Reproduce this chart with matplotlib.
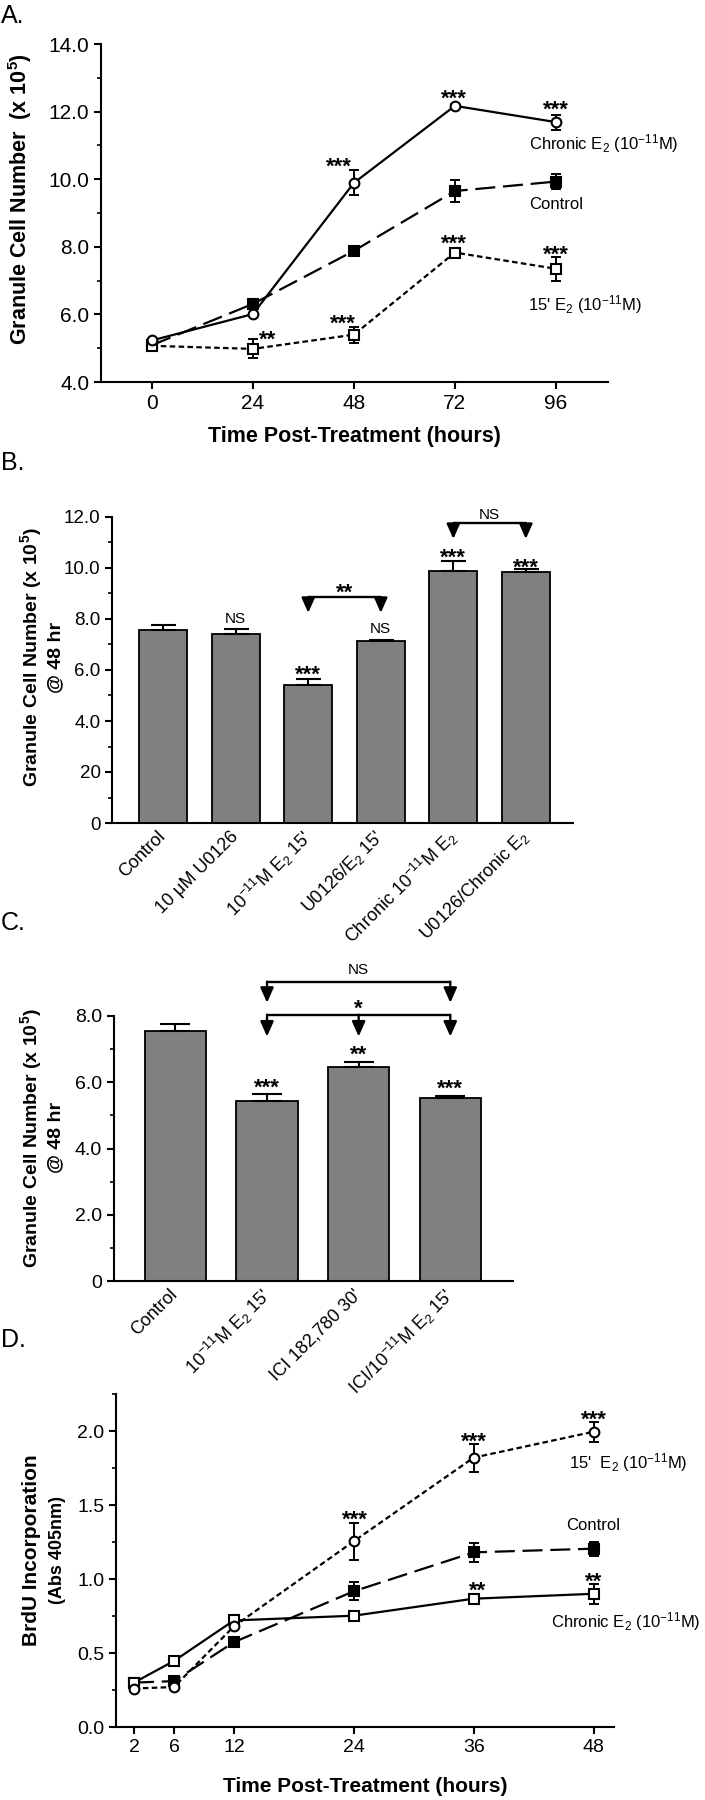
import numpy as np
import matplotlib
matplotlib.use("Agg")
import matplotlib.pyplot as plt

plt.rcParams['font.family'] = ['Liberation Sans', 'DejaVu Sans']
plt.rcParams['mathtext.fontset'] = 'custom'
plt.rcParams['mathtext.rm'] = 'Liberation Sans'
plt.rcParams['mathtext.it'] = 'Liberation Sans:italic'
plt.rcParams['mathtext.bf'] = 'Liberation Sans:bold'
plt.rcParams['mathtext.default'] = 'regular'

# ---- panel A: granule cell number over time ----
hours_a = [0, 24, 48, 72, 96]
chronic_a = [5.23, 6.01, 9.89, 12.17, 11.69]
chronic_a_err = [0.04, 0.04, 0.37, 0.05, 0.22]
control_a = [5.09, 6.31, 7.88, 9.65, 9.93]
control_a_err = [0.04, 0.04, 0.13, 0.33, 0.23]
pulse_a = [5.07, 4.98, 5.40, 7.83, 7.35]
pulse_a_err = [0.04, 0.28, 0.24, 0.08, 0.36]
sig_a_x = [44.5, 71.8, 96, 27.5, 45.3, 71.8, 96]
sig_a_y = [10.57, 12.58, 12.26, 5.45, 5.93, 8.29, 7.96]
sig_a = ['***', '***', '***', '**', '***', '***', '***']

# ---- panel B: U0126 bars at 48 hr ----
groups_b = ["Control", "10 \u03bcM U0126", "10$^{-11}$M E$_2$ 15'", "U0126/E$_2$ 15'",
            "Chronic 10$^{-11}$M E$_2$", "U0126/Chronic E$_2$"]
means_b = [7.57, 7.41, 5.42, 7.12, 9.88, 9.84]
sem_b = [0.19, 0.19, 0.21, 0.04, 0.39, 0.12]
sig_b = ['', 'NS', '***', 'NS', '***', '***']
sig_b_y = [0, 8.04, 6.08, 7.65, 10.67, 10.27]

# ---- panel C: ICI bars at 48 hr ----
groups_c = ["Control", "10$^{-11}$M E$_2$ 15'", "ICI 182,780 30'", "ICI/10$^{-11}$M E$_2$ 15'"]
means_c = [7.56, 5.42, 6.47, 5.52]
sem_c = [0.20, 0.23, 0.15, 0.06]
sig_c = ['', '***', '**', '***']
sig_c_y = [0, 6.05, 7.05, 6.0]

# ---- panel D: BrdU incorporation ----
hours_d = [2, 6, 12, 24, 36, 48]
pulse_d = [0.26, 0.27, 0.68, 1.255, 1.82, 1.995]
pulse_d_err = [0.01, 0.01, 0.01, 0.126, 0.094, 0.067]
control_d = [0.30, 0.31, 0.573, 0.917, 1.18, 1.205]
control_d_err = [0.01, 0.01, 0.01, 0.061, 0.065, 0.048]
chronic_d = [0.30, 0.446, 0.72, 0.752, 0.867, 0.90]
chronic_d_err = [0.01, 0.01, 0.01, 0.01, 0.02, 0.066]
sig_d_x = [24.1, 36, 48, 36.4, 48]
sig_d_y = [1.445, 1.977, 2.12, 0.968, 1.028]
sig_d = ['***', '***', '***', '**', '**']

W, H = 705, 1800
fig = plt.figure(figsize=(W / 100, H / 100), dpi=100)


def axes_px(left, top, right, bottom):
    return fig.add_axes([left / W, 1 - bottom / H, (right - left) / W, (bottom - top) / H])


def style(ax, tick_size):
    for s in ['top', 'right']:
        ax.spines[s].set_visible(False)
    for s in ['left', 'bottom']:
        ax.spines[s].set_linewidth(1.5)
    ax.tick_params(width=1.5, length=5, labelsize=tick_size, direction='out')
    ax.tick_params(which='minor', width=1.2, length=3)


def stars(ax, x, y, s, size=16):
    ax.annotate(s, (x, y), xytext=(0, -0.58 * size), textcoords='offset points',
                ha='center', va='baseline', fontsize=size, fontweight='bold',
                annotation_clip=False)


def ns(ax, x, y, s, size=11):
    ax.annotate(s, (x, y), xytext=(0, -0.36 * size), textcoords='offset points',
                ha='center', va='baseline', fontsize=size, annotation_clip=False)


def bracket(ax, xs, y_line, y_tip, label, y_label):
    ax.plot([xs[0], xs[-1]], [y_line, y_line], color='k', lw=1.7, clip_on=False,
            solid_capstyle='butt')
    for x in xs:
        ax.annotate('', xy=(x, y_tip), xytext=(x, y_line), annotation_clip=False,
                    arrowprops=dict(arrowstyle='-|>,head_length=0.45,head_width=0.2',
                                    mutation_scale=20, color='k', lw=1.7,
                                    shrinkA=0, shrinkB=0))
    if label.startswith('*'):
        stars(ax, (xs[0] + xs[-1]) / 2, y_label, label)
    else:
        ns(ax, (xs[0] + xs[-1]) / 2, y_label, label)


def series(ax, x, y, err, marker, face, dashes, cap):
    line, = ax.plot(x, y, color='k', lw=1.6)
    if dashes:
        line.set_dashes(dashes)
    ax.errorbar(x, y, yerr=err, fmt='none', ecolor='k', elinewidth=1.4,
                capsize=cap, capthick=1.4, zorder=3)
    ax.plot(x, y, ls='none', marker=marker, ms=7, mfc=face, mec='k', mew=1.5, zorder=4)


# panel A
ax = axes_px(101, 44, 608, 382)
style(ax, 15)
series(ax, hours_a, control_a, control_a_err, 's', 'k', (9, 3.5), 3.5)
series(ax, hours_a, pulse_a, pulse_a_err, 's', 'white', (2.5, 1.5), 3.5)
series(ax, hours_a, chronic_a, chronic_a_err, 'o', 'white', None, 3.5)
for x, y, s in zip(sig_a_x, sig_a_y, sig_a):
    stars(ax, x, y, s)
ax.text(89.7, 11.06, "Chronic E$_2$ (10$^{-11}$M)", fontsize=12, va='center', clip_on=False)
ax.text(89.7, 9.24, "Control", fontsize=12, va='center', clip_on=False)
ax.text(89.5, 6.28, "15' E$_2$ (10$^{-11}$M)", fontsize=12, va='center', clip_on=False)
ax.set_xlim(-12.1, 108.4)
ax.set_ylim(4, 14)
ax.set_xticks(hours_a)
ax.set_yticks(np.arange(4, 15, 2))
ax.set_yticklabels([f'{v:.1f}' for v in np.arange(4, 15, 2)])
ax.set_yticks(np.arange(5, 14, 2), minor=True)
ax.set_xlabel('Time Post-Treatment (hours)', fontsize=15.5, fontweight='bold')
ax.xaxis.set_label_coords(0.499, -0.16)
ax.xaxis.label.set_va('center')
ax.set_ylabel(r'Granule Cell Number  (x 10$^\mathbf{5}$)', fontsize=15.5, fontweight='bold')
ax.yaxis.set_label_coords(-0.16, 0.541)
ax.yaxis.label.set_va('center')

# panel B
ax = axes_px(112.4, 517, 573, 823)
style(ax, 13.5)
xb = np.arange(len(groups_b))
ax.bar(xb, means_b, width=0.66, color='#808080', edgecolor='k', lw=1.3, zorder=2)
ax.errorbar(xb, means_b, yerr=[np.zeros(len(xb)), sem_b], fmt='none', ecolor='k',
            elinewidth=1.5, capsize=9, capthick=1.5, zorder=3)
for x, y, s in zip(xb, sig_b_y, sig_b):
    if s == 'NS':
        ns(ax, x, y, s)
    elif s:
        stars(ax, x, y, s)
bracket(ax, [2, 3], 8.86, 8.24, '**', 9.3)
bracket(ax, [4, 5], 11.76, 11.14, 'NS', 12.12)
ax.set_xlim(-0.70, 5.65)
ax.set_ylim(0, 12)
ax.set_yticks(np.arange(0, 13, 2))
ax.set_yticklabels(['0', '20', '4.0', '6.0', '8.0', '10.0', '12.0'])
ax.set_yticks(np.arange(1, 12, 2), minor=True)
ax.set_xticks(xb)
ax.set_xticklabels(groups_b, rotation=45, ha='right', va='center', rotation_mode='anchor',
                   fontsize=13)
ax.tick_params(axis='x', length=0, pad=8)
ax.set_ylabel('Granule Cell Number (x 10$^\\mathbf{5}$)\n@ 48 hr', fontsize=14,
              fontweight='bold', linespacing=1.3)
ax.yaxis.set_label_coords(-0.155, 0.542)
ax.yaxis.label.set_va('center')

# panel C
ax = axes_px(114, 1016, 512.6, 1281)
style(ax, 14)
xc = np.arange(len(groups_c))
ax.bar(xc, means_c, width=0.67, color='#808080', edgecolor='k', lw=1.3, zorder=2)
ax.errorbar(xc, means_c, yerr=[np.zeros(len(xc)), sem_c], fmt='none', ecolor='k',
            elinewidth=1.5, capsize=11, capthick=1.5, zorder=3)
for x, y, s in zip(xc, sig_c_y, sig_c):
    if s:
        stars(ax, x, y, s)
bracket(ax, [1, 2, 3], 8.04, 7.38, '*', 8.42)
bracket(ax, [1, 3], 9.04, 8.40, 'NS', 9.42)
ax.set_xlim(-0.67, 3.68)
ax.set_ylim(0, 8)
ax.set_yticks(np.arange(0, 9, 2))
ax.set_yticklabels(['0', '2.0', '4.0', '6.0', '8.0'])
ax.set_yticks(np.arange(1, 8, 2), minor=True)
ax.set_xticks(xc)
ax.set_xticklabels(groups_c, rotation=45, ha='right', va='center', rotation_mode='anchor',
                   fontsize=13)
ax.tick_params(axis='x', length=0, pad=8)
ax.set_ylabel('Granule Cell Number (x 10$^\\mathbf{5}$)\n@ 48 hr', fontsize=14,
              fontweight='bold', linespacing=1.3)
ax.yaxis.set_label_coords(-0.183, 0.54)
ax.yaxis.label.set_va('center')

# panel D
ax = axes_px(116, 1394, 614, 1727)
style(ax, 14)
series(ax, hours_d, control_d, control_d_err, 's', 'k', (9, 3.5), 3.5)
series(ax, hours_d, chronic_d, chronic_d_err, 's', 'white', None, 3.5)
series(ax, hours_d, pulse_d, pulse_d_err, 'o', 'white', (2.5, 1.5), 3.5)
for x, y, s in zip(sig_d_x, sig_d_y, sig_d):
    stars(ax, x, y, s)
ax.text(45.5, 1.79, "15'  E$_2$ (10$^{-11}$M)", fontsize=12, va='center', clip_on=False)
ax.text(45.3, 1.36, "Control", fontsize=12, va='center', clip_on=False)
ax.text(43.7, 0.711, "Chronic E$_2$ (10$^{-11}$M)", fontsize=12, va='center', clip_on=False)
ax.set_xlim(0.2, 50.05)
ax.set_ylim(0, 2.25)
ax.set_xticks(hours_d)
ax.set_yticks(np.arange(0, 2.01, 0.5))
ax.set_yticklabels([f'{v:.1f}' for v in np.arange(0, 2.01, 0.5)])
ax.set_yticks(np.arange(0.25, 2.3, 0.5), minor=True)
ax.set_xlabel('Time Post-Treatment (hours)', fontsize=15, fontweight='bold')
ax.xaxis.set_label_coords(0.5, -0.18)
ax.xaxis.label.set_va('center')
ax.set_ylabel('BrdU Incorporation', fontsize=15, fontweight='bold')
ax.yaxis.set_label_coords(-0.169, 0.532)
ax.yaxis.label.set_va('center')
ax.text(-0.118, 0.532, '(Abs 405nm)', transform=ax.transAxes, rotation=90, fontsize=13,
        fontweight='bold', ha='center', va='center')

# panel letters
for letter, base in zip(['A.', 'B.', 'C.', 'D.'], [23, 470, 930, 1347]):
    fig.text(1 / W, 1 - base / H, letter, fontsize=18, va='baseline', ha='left')

fig.savefig('out.png', dpi=100)
